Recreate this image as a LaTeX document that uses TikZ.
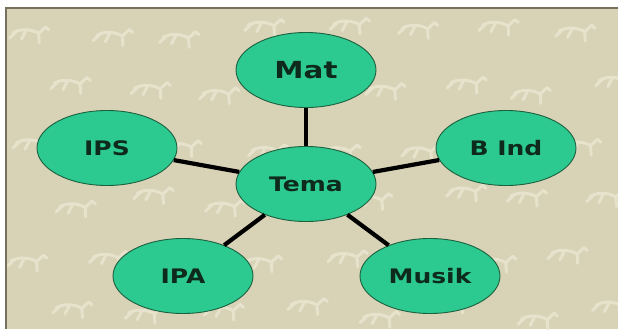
\documentclass[tikz,border=0pt]{standalone}
\usepackage{fontspec}
\usetikzlibrary{shapes.geometric}
\newfontfamily\labfont{DejaVu Sans}[FakeStretch=1.25]
\definecolor{bg}{RGB}{216,210,182}
\definecolor{bgl}{RGB}{234,230,210}
\definecolor{edgegray}{RGB}{120,112,92}
\definecolor{nodefill}{RGB}{44,201,145}
\definecolor{nodeline}{RGB}{28,96,62}
\definecolor{txt}{RGB}{14,42,28}
\tikzset{
  topic/.style={ellipse, draw=nodeline, line width=0.9pt, fill=nodefill,
    minimum width=140pt, minimum height=75pt, inner sep=0pt,
    font=\labfont\bfseries\fontsize{20}{22}\selectfont, text=txt},
  bigtopic/.style={topic, font=\labfont\bfseries\fontsize{23.5}{25}\selectfont},
  link/.style={line width=4.2pt, black},
  deer/.style={bgl, line width=3pt, line cap=round, line join=round, opacity=0.8}
}
\begin{document}
\begin{tikzpicture}[x=1pt,y=-1pt]
\useasboundingbox (0,0) rectangle (618,331);
\fill[white] (0,0) rectangle (618,331);
\fill[bg] (6,8) rectangle (618,329);
% faint background pattern
\pgfmathsetseed{7}
\foreach \i in {0,...,7}{
  \foreach \j in {0,...,5}{
    \pgfmathsetmacro{\px}{30+\i*78+mod(\j,2)*38+rand*10}
    \pgfmathsetmacro{\py}{30+\j*56+rand*8}
    \begin{scope}[shift={(\px,\py)}, rotate=-15]
      \draw[deer] (-15,5) .. controls (-8,-2) and (3,-3) .. (10,-1)
        -- (15,-9) -- (19,-7) (10,-1) -- (13,8) (-12,3) -- (-17,11)
        (-3,0) -- (-5,9);
    \end{scope}
  }
}
\draw[edgegray, line width=1.2pt] (6,329) -- (6,8) -- (618,8);
% nodes
\node[bigtopic] (mat) at (306,70) {Mat};
\node[topic] (tema) at (306,184) {Tema};
\node[topic] (ips) at (107,148) {IPS};
\node[topic] (bind) at (506,148) {B Ind};
\node[topic] (ipa) at (183,276) {IPA};
\node[topic] (musik) at (430,276) {Musik};
% connectors
\draw[link] (tema) -- (mat);
\draw[link] (tema) -- (ips);
\draw[link] (tema) -- (bind);
\draw[link] (tema) -- (ipa);
\draw[link] (tema) -- (musik);
\end{tikzpicture}
\end{document}
